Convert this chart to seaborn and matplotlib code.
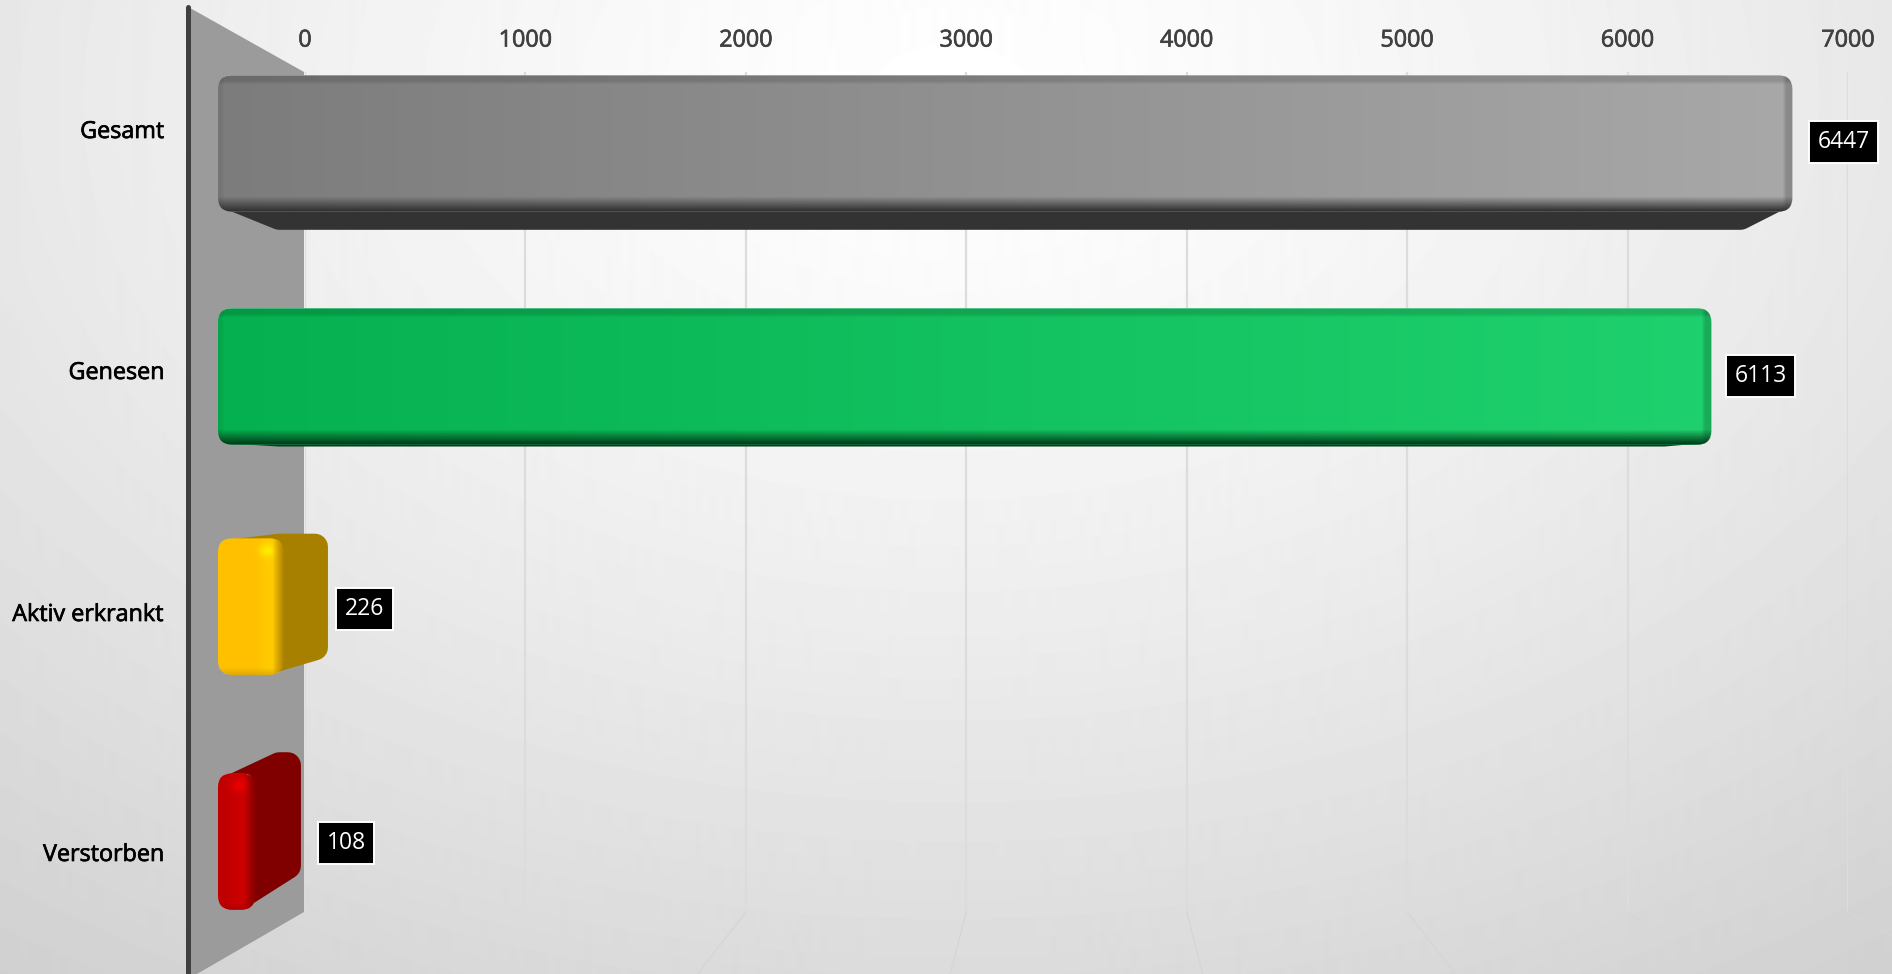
import numpy as np
import pandas as pd
import matplotlib
matplotlib.use("Agg")
import matplotlib.pyplot as plt
import matplotlib.patheffects as pe
import seaborn as sns
from matplotlib.patches import FancyBboxPatch, Polygon

# the numbers
categories = ["Gesamt", "Genesen", "Aktiv erkrankt", "Verstorben"]
values = [6447, 6113, 226, 108]
x_ticks = [0, 1000, 2000, 3000, 4000, 5000, 6000, 7000]

# colours per bar
bar_colors = ["#a8a8a8", "#1fd16e", "#ffc000", "#c00000"]
left_colors = ["#7c7c7c", "#05b050", "#ffc000", "#c00000"]
side_colors = ["#333333", "#00401a", "#a88000", "#800000"]

W, H = 1892, 974
sns.set_theme(style="white")
plt.rcParams["font.family"] = ["Open Sans", "DejaVu Sans"]

fig = plt.figure(figsize=(W / 100, H / 100), dpi=100)


def px_axes(z):
    a = fig.add_axes([0, 0, 1, 1], zorder=z)
    a.set_xlim(0, W)
    a.set_ylim(H, 0)
    a.axis("off")
    a.patch.set_alpha(0)
    return a


def bolder(color):
    return [pe.withStroke(linewidth=0.5, foreground=color)]


# background, radial grey
ax_bg = px_axes(0)
yy, xx = np.mgrid[0:H, 0:W]
dist = np.sqrt(((xx - 950) / 1500) ** 2 + ((yy - 100) / 1000) ** 2)
ax_bg.imshow(1 - 0.167 * dist ** 1.3, cmap="gray", vmin=0, vmax=1, extent=(0, W, H, 0), aspect="auto")

# value axis sits on the back wall
ax_grid = fig.add_axes([305 / W, 1 - 912 / H, (1848 - 305) / W, (912 - 72) / H], zorder=1)
ax_grid.patch.set_alpha(0)
ax_grid.set_xlim(0, 7000)
ax_grid.set_xticks(x_ticks)
ax_grid.set_yticks([])
ax_grid.xaxis.tick_top()
ax_grid.tick_params(axis="x", length=0, pad=14, labelsize=16.8, labelcolor="#404040")
ax_grid.grid(axis="x", color="#dcdcdc", linewidth=1.6)
for lab in ax_grid.get_xticklabels():
    lab.set_path_effects(bolder("#404040"))
sns.despine(ax=ax_grid, left=True, bottom=True, top=True, right=True)

# wall, floor lines and bar sides go under the bars
ax_under = px_axes(2)
for t in x_ticks[2:]:
    x0 = 305 + t * (1848 - 305) / 7000
    ax_under.plot([x0, x0 + (x0 - 1077) * 0.00235 * 62], [912, 974], color="#d6d6d6", lw=1.1)
ax_under.add_patch(Polygon([(190, 8), (304, 72), (304, 912), (190, 978)], closed=True, fc="#9b9b9b", ec="none"))
ax_under.plot([188, 188], [7, 974], color="#404040", lw=3.6, solid_capstyle="round")

# bars, front face scale
ax_bars = fig.add_axes([170 / W, 0, 1 - 170 / W, 1], zorder=3)
df = pd.DataFrame({"cat": categories, "val": values})
sns.barplot(data=df, x="val", y="cat", hue="cat", palette=bar_colors, order=categories,
            hue_order=categories, width=0.585, saturation=1, legend=False, dodge=False, ax=ax_bars)
ax_bars.patch.set_alpha(0)
ax_bars.set_xlim((170 - 223.5) / 0.2425, (W - 223.5) / 0.2425)
ax_bars.set_ylim((H - 143.5) / 233, -143.5 / 233)
ax_bars.set_xlabel("")
ax_bars.set_ylabel("")
ax_bars.set_xticks([])
label_px = [129, 370, 612, 852]
ax_bars.set_yticks([(p - 143.5) / 233 for p in label_px])
ax_bars.set_yticklabels(categories)
ax_bars.tick_params(axis="y", length=0, pad=4.3, labelsize=16.8, labelcolor="black")
for lab in ax_bars.get_yticklabels():
    lab.set_path_effects(bolder("black"))
sns.despine(ax=ax_bars, left=True, bottom=True)

ax_top = px_axes(4)


def to_px(ax, x, y):
    return ax_top.transData.inverted().transform(ax.transData.transform((x, y)))


def back(x, y):
    return 0.945 * x + 60, 0.93 * y + 33


def hull(points):
    pts = sorted(set(points))

    def half(seq):
        out = []
        for p in seq:
            while len(out) > 1 and (out[-1][0] - out[-2][0]) * (p[1] - out[-2][1]) - (out[-1][1] - out[-2][1]) * (p[0] - out[-2][0]) <= 0:
                out.pop()
            out.append(p)
        return out[:-1]

    return half(pts) + half(pts[::-1])


def hex_rgb(c):
    return np.array(matplotlib.colors.to_rgb(c))


gaps = [51, 49, 81, 91]
y_nudge = [0, 0, -3, -1]
box_y = [142, 376, 609, 843]
bars = [c.patches[0] for c in ax_bars.containers]
for i, bar in enumerate(bars):
    x0, y0 = to_px(ax_bars, bar.get_x(), bar.get_y())
    x1, y1 = to_px(ax_bars, bar.get_x() + bar.get_width(), bar.get_y() + bar.get_height())
    x0, x1 = x0 - 5.5, x1 + 5.5
    y0, y1 = y0 + y_nudge[i], y1 + y_nudge[i]
    small = values[i] < 1000

    # extruded side, rounded by a thick round edge
    ins = 14
    corners = [(x0 + ins, y0 + ins), (x1 - ins, y0 + ins), (x1 - ins, y1 - ins), (x0 + ins, y1 - ins)]
    outline = corners + [back(*c) for c in corners]
    ax_under.add_patch(Polygon(hull(outline), closed=True, fc=side_colors[i], ec=side_colors[i],
                               lw=26 * 0.72, joinstyle="round"))

    # front face
    box = FancyBboxPatch((x0, y0), x1 - x0, y1 - y0, boxstyle="round,pad=0,rounding_size=14",
                         fc="none", ec="none", transform=ax_top.transData)
    ax_top.add_patch(box)
    bar.set_clip_path(box)
    w, h = int(round(x1 - x0)), int(round(y1 - y0))
    fx = np.linspace(0, 1, w)[None, :, None]
    img = hex_rgb(left_colors[i]) * (1 - fx) + hex_rgb(bar_colors[i]) * fx
    img = np.repeat(img, h, axis=0)
    px_x = np.arange(w)[None, :, None]
    px_y = np.arange(h)[:, None, None]
    side = hex_rgb(side_colors[i])
    if small:
        band = np.exp(-((px_x - (w - 15)) / 9.0) ** 2) * 0.4
        img = img + (np.minimum(1, hex_rgb(bar_colors[i]) * 1.15) - img) * band
        spot = np.exp(-(((px_x - (w - 17)) / 8.0) ** 2 + ((px_y - 12) / 6.0) ** 2)) * 0.7
        img = img + (np.minimum(1, hex_rgb(bar_colors[i]) * 1.3) - img) * spot
        fade = np.clip((px_x - (w - 12)) / 12.0, 0, 1)
        img = img * (1 - fade) + side * fade
        fade = np.clip((px_y - (h - 8)) / 8.0, 0, 1) * 0.4
        img = img * (1 - fade) + side * fade
    else:
        edge_r = np.clip((px_x - (w - 11)) / 4.0, 0, 1) * 0.18
        edge_t = np.clip((9 - px_y) / 4.0, 0, 1) * 0.14
        edge_l = np.clip((6 - px_x) / 3.0, 0, 1) * 0.06
        img = img * (1 - edge_r) * (1 - edge_t) * (1 - edge_l)
        fade = np.clip((px_y - (h - 16)) / 14.0, 0, 1)
        img = img * (1 - fade) + side * fade
    im = ax_top.imshow(np.clip(img, 0, 1), extent=(x0, x1, y1, y0), aspect="auto", interpolation="bilinear")
    im.set_clip_path(box)

    # value box
    cx, cy = x1 + gaps[i], box_y[i]
    ax_top.text(cx, cy, str(values[i]), color="white", fontsize=16.5, ha="center", va="center",
                bbox=dict(boxstyle="square,pad=0.38", fc="black", ec="white", lw=1.4))
    if values[i] == 108:
        ax_top.plot([cx - 21, cx + 21], [cy + 10.5, cy + 10.5], color="white", lw=1.2)

ax_top.set_xlim(0, W)
ax_top.set_ylim(H, 0)
ax_under.set_xlim(0, W)
ax_under.set_ylim(H, 0)

fig.savefig("out.png", dpi=100)
